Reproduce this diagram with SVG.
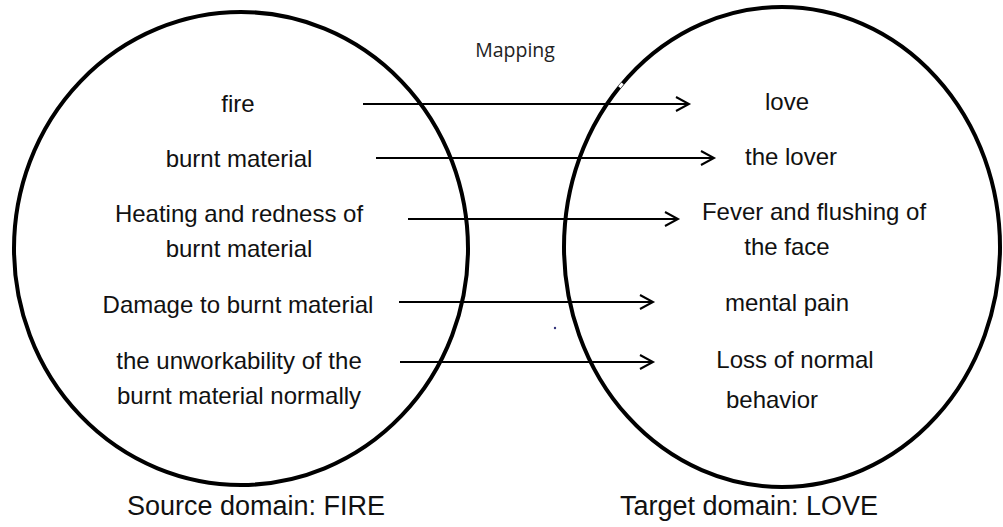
<svg xmlns="http://www.w3.org/2000/svg" width="1003" height="527" viewBox="0 0 1003 527">
<defs>
<style>
.dom{fill:none;stroke:#000;stroke-width:4}
.t{font-family:"Liberation Sans",Arial,sans-serif;font-size:24px;fill:#111;text-anchor:middle}
.cap{font-family:"Liberation Sans",Arial,sans-serif;font-size:27px;fill:#111;text-anchor:middle}
.map{font-family:"Open Sans",sans-serif;font-size:19.5px;fill:#222;text-anchor:middle}
.arr{stroke:#000;stroke-width:2;fill:none;marker-end:url(#chev)}
</style>
<marker id="chev" markerUnits="userSpaceOnUse" markerWidth="20" markerHeight="20" refX="14" refY="8" orient="auto" viewBox="0 0 20 16">
<polyline points="1,1 14,8 1,15" fill="none" stroke="#000" stroke-width="2"/>
</marker>
</defs>
<rect width="1003" height="527" fill="#fff"/>
<g id="source-domain">
<ellipse class="dom" cx="241" cy="248.5" rx="227" ry="236.5"/>
<text class="cap" x="256" y="515">Source domain: FIRE</text>
</g>
<g id="target-domain">
<ellipse class="dom" cx="782" cy="247" rx="218" ry="240"/>
<rect x="619" y="84" width="5" height="3" fill="#fff" transform="rotate(-50 621 86)"/>
<text class="cap" x="749" y="515">Target domain: LOVE</text>
</g>
<g id="mapping-label">
<text class="map" x="515" y="57">Mapping</text>
</g>
<g id="src-fire"><text class="t" x="238" y="112">fire</text></g>
<g id="src-burnt"><text class="t" x="239" y="167">burnt material</text></g>
<g id="src-heating"><text class="t" x="239" y="222">Heating and redness of</text><text class="t" x="239" y="257">burnt material</text></g>
<g id="src-damage"><text class="t" x="238" y="313">Damage to burnt material</text></g>
<g id="src-unwork"><text class="t" x="239" y="369">the unworkability of the</text><text class="t" x="239" y="404">burnt material normally</text></g>
<g id="tgt-love"><text class="t" x="787" y="110">love</text></g>
<g id="tgt-lover"><text class="t" x="791" y="165">the lover</text></g>
<g id="tgt-fever"><text class="t" x="814" y="220">Fever and flushing of</text><text class="t" x="787" y="255">the face</text></g>
<g id="tgt-pain"><text class="t" x="787" y="311">mental pain</text></g>
<g id="tgt-loss"><text class="t" x="795" y="368">Loss of normal</text><text class="t" x="772" y="408">behavior</text></g>
<g id="connectors">
<line class="arr" x1="363" y1="104" x2="689" y2="104"/>
<line class="arr" x1="376" y1="158" x2="714" y2="158"/>
<line class="arr" x1="408" y1="219" x2="678" y2="219"/>
<line class="arr" x1="399" y1="302" x2="653" y2="302"/>
<line class="arr" x1="400" y1="362" x2="653" y2="362"/>
</g>
<circle cx="555" cy="328" r="1.2" fill="#33337a"/>
</svg>
